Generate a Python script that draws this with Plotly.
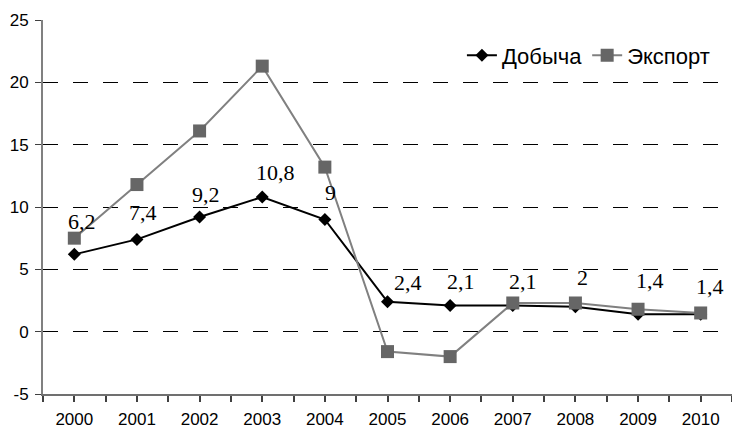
import plotly.graph_objects as go

years = [2000, 2001, 2002, 2003, 2004, 2005, 2006, 2007, 2008, 2009, 2010]
dobycha = [6.2, 7.4, 9.2, 10.8, 9.0, 2.4, 2.1, 2.1, 2.0, 1.4, 1.4]
eksport = [7.5, 11.8, 16.1, 21.3, 13.2, -1.6, -2.0, 2.3, 2.3, 1.8, 1.5]
label_texts = ["6,2", "7,4", "9,2", "10,8", "9", "2,4", "2,1", "2,1", "2", "1,4", "1,4"]
y_ticks = [-5, 0, 5, 10, 15, 20, 25]
y_tick_labels = ["-5", "0", "5", "10", "15", "20", "25"]
# label offsets (pixels) relative to the point: x shift, baseline height above point
label_dx = [8, 6, 6, 13, 6, 20, 11, 10, 7, 12, 9]
label_dy = [23, 17, 13, 15, 17, 10, 14, 14, 20, 24, 18]

fig = go.Figure()
fig.add_trace(go.Scatter(
    x=years, y=dobycha, name="Добыча", mode="lines+markers",
    line=dict(color="#000000", width=2),
    marker=dict(symbol="diamond", size=10, color="#000000"),
))
fig.add_trace(go.Scatter(
    x=years, y=eksport, name="Экспорт", mode="lines+markers",
    line=dict(color="#808080", width=2),
    marker=dict(symbol="square", size=13, color="#666666"),
))

for x, y, t, dx, dy in zip(years, dobycha, label_texts, label_dx, label_dy):
    fig.add_annotation(
        x=x, y=y, text=t, showarrow=False,
        xanchor="center", yanchor="bottom",
        xshift=dx, yshift=dy - 5,
        font=dict(family="Liberation Serif, Times New Roman, serif", size=22, color="#000000"),
    )

fig.update_layout(
    width=732, height=432,
    margin=dict(l=43, r=0, t=20, b=38, autoexpand=False),
    paper_bgcolor="white", plot_bgcolor="white",
    font=dict(family="Liberation Sans, Arial, sans-serif", size=17, color="#000000"),
    showlegend=True,
    legend=dict(
        orientation="h", x=0.608, xanchor="left", y=0.905, yanchor="middle",
        bgcolor="rgba(255,255,255,0)", borderwidth=0,
        font=dict(family="Liberation Sans, Arial, sans-serif", size=22, color="#000000"),
    ),
)

fig.update_xaxes(
    range=[1999.5, 2010.5], tickmode="array", tickvals=years,
    ticktext=[str(y) for y in years],
    showgrid=False, zeroline=False,
    showline=True, linecolor="#707070", linewidth=1.5,
    ticks="outside", ticklen=6, tickcolor="#404040", tickwidth=1.5,
    ticklabelstandoff=3,
    minor=dict(tickmode="linear", tick0=1999.5, dtick=1, ticks="outside", ticklen=6,
               tickcolor="#404040", tickwidth=1.5, showgrid=False),
)
fig.update_yaxes(
    range=[-5, 25], tickmode="array", tickvals=y_ticks, ticktext=y_tick_labels,
    showgrid=True, gridcolor="#000000", gridwidth=1, griddash="15px,15px",
    zeroline=False,
    showline=True, linecolor="#808080", linewidth=2,
    ticks="outside", ticklen=6, tickcolor="#404040", tickwidth=1,
    ticklabelstandoff=3,
)

fig.write_html(
    "out.html",
    config={"displayModeBar": False},
    post_script="document.body.style.margin='0';document.body.style.overflow='hidden';",
)
